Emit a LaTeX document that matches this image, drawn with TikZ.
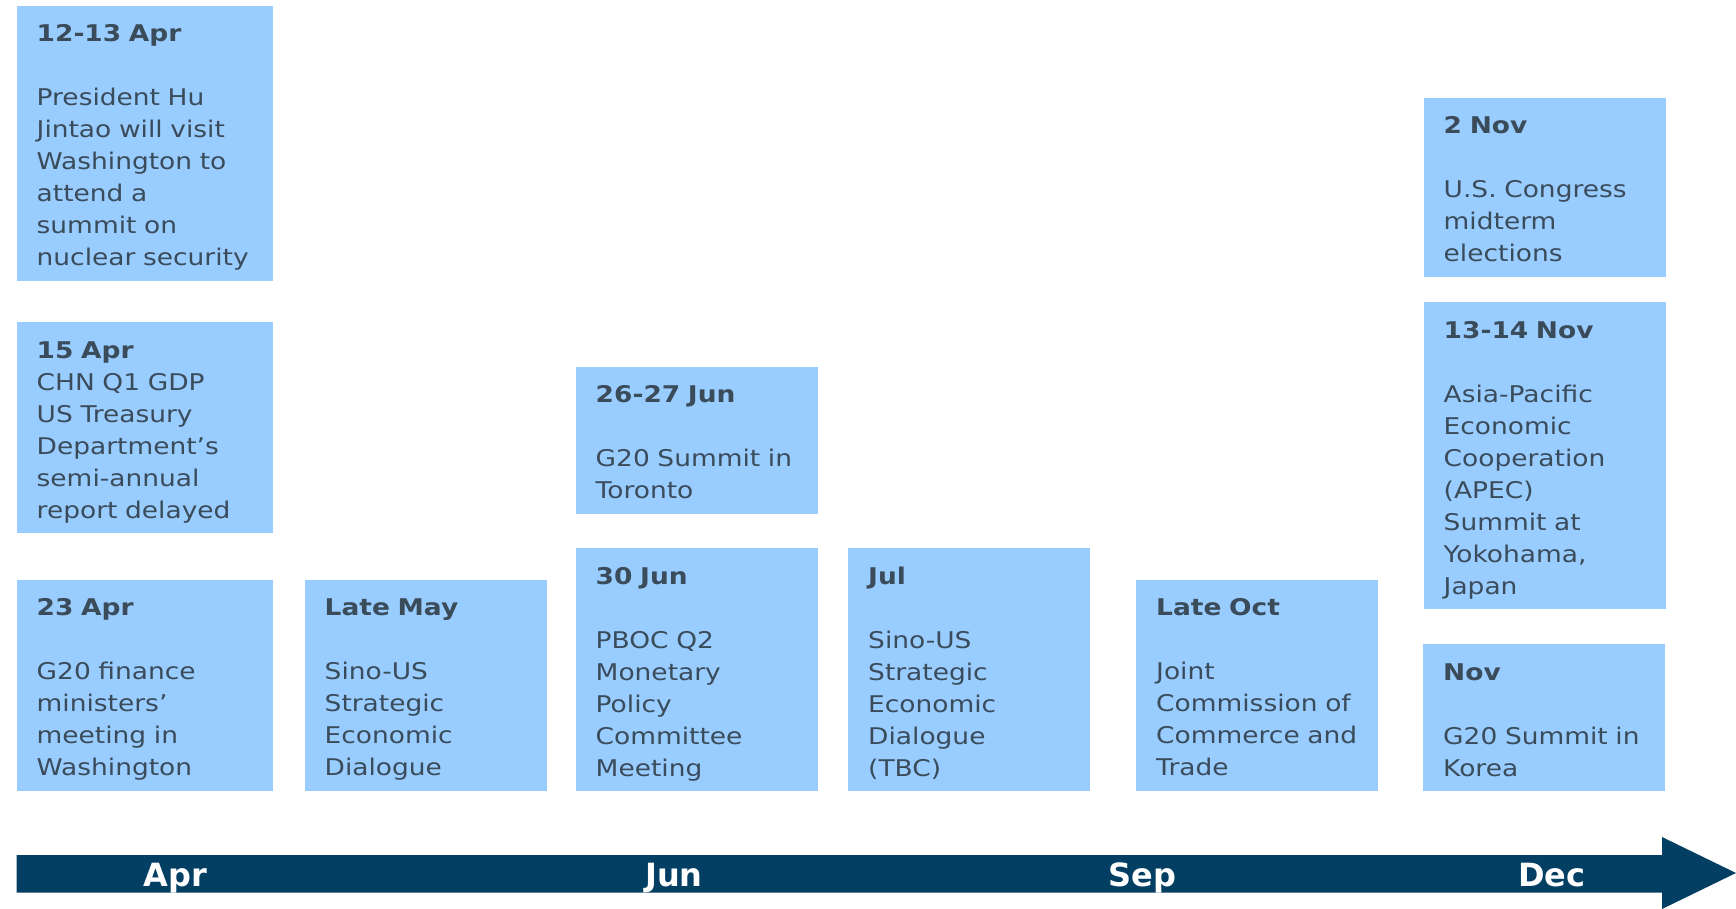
\documentclass[tikz,border=0pt]{standalone}
\usepackage{fontspec}
\usepackage{xcolor}
\setmainfont{DejaVu Sans}
\newfontfamily\boxfont{DejaVu Sans}[FakeStretch=1.15]

\definecolor{boxblue}{HTML}{99CCFF}
\definecolor{boxtext}{HTML}{3A4B5A}
\definecolor{barblue}{HTML}{023F62}

% first line of a box, and the padding under its last line
\newcommand{\evhead}[1]{\rule{0pt}{36pt}\textbf{#1}}
\newcommand{\evend}{\rule[-15pt]{0pt}{15pt}}

\tikzset{
    event/.style={fill=boxblue, text=boxtext, anchor=north west, align=left,
        inner xsep=20pt, inner ysep=0pt, text width=#1,
        font=\boxfont\fontsize{23}{32}\selectfont},
    event/.default=202pt,
    month/.style={text=white, anchor=base, font=\bfseries\fontsize{32}{38}\selectfont}
}

\begin{document}
\begin{tikzpicture}[x=1pt, y=1pt]
        \useasboundingbox (0,0) rectangle (1736,-909);

        % April
        \node[event=216pt] (hu) at (16.5,-5.5) {\evhead{12-13 Apr}\\[32pt] President~Hu\\ Jintao~will~visit\\ Washington~to\\ attend~a\\ summit~on\\ nuclear~security\evend};
        \node[event=216pt] (gdp) at (16.5,-322) {\evhead{15 Apr}\\ CHN~Q1~GDP\\ US~Treasury\\ Department’s\\ semi-annual\\ report~delayed\evend};
        \node[event=216pt] (finance) at (16.5,-579.5) {\evhead{23 Apr}\\[32pt] G20~finance\\ ministers’\\ meeting~in\\ Washington\evend};

        % May - Oct
        \node[event] (sedmay) at (304.5,-579.5) {\evhead{Late May}\\[32pt] Sino-US\\ Strategic\\ Economic\\ Dialogue\evend};
        \node[event] (toronto) at (575.5,-366.5) {\evhead{26-27 Jun}\\[32pt] G20~Summit~in\\ Toronto\evend};
        \node[event] (pboc) at (575.5,-548) {\evhead{30 Jun}\\[32pt] PBOC~Q2\\ Monetary\\ Policy\\ Committee\\ Meeting\evend};
        \node[event] (sedjul) at (848,-548) {\evhead{Jul}\\[32pt] Sino-US\\ Strategic\\ Economic\\ Dialogue\\ (TBC)\evend};
        \node[event] (jcct) at (1136,-579.5) {\evhead{Late Oct}\\[32pt] Joint\\ Commission~of\\ Commerce~and\\ Trade\evend};

        % November
        \node[event] (midterm) at (1423.5,-97.5) {\evhead{2 Nov}\\[32pt] U.S.~Congress\\ midterm\\ elections\evend};
        \node[event] (apec) at (1423.5,-302) {\evhead{13-14 Nov}\\[32pt] Asia-Pacific\\ Economic\\ Cooperation\\ (APEC)\\ Summit~at\\ Yokohama,\\ Japan\evend};
        \node[event] (korea) at (1423,-644) {\evhead{Nov}\\[32pt] G20~Summit~in\\ Korea\evend};

        % time line
        \fill[barblue] (16.5,-855) -- (1662,-855) -- (1662,-837) -- (1736,-873)
            -- (1662,-909) -- (1662,-892.5) -- (16.5,-892.5) -- cycle;

        \node[month] (apr) at (175.5,-886) {Apr};
        \node[month] (jun) at (674,-886) {Jun};
        \node[month] (sep) at (1142.5,-886) {Sep};
        \node[month] (dec) at (1552,-886) {Dec};
    \end{tikzpicture}
\end{document}
